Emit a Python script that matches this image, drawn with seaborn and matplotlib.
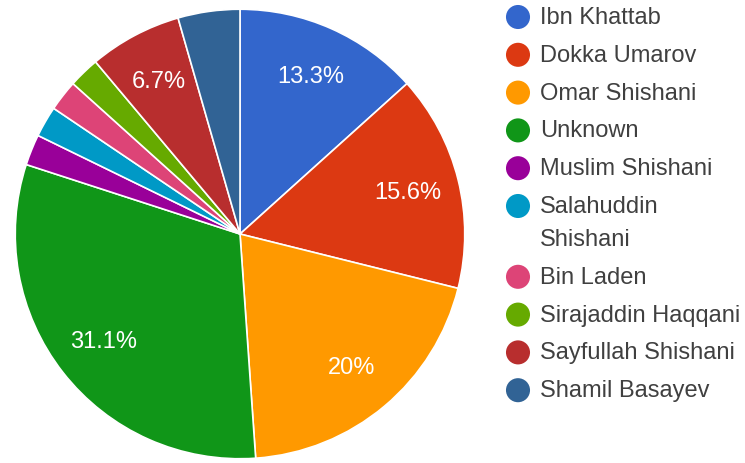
import matplotlib
matplotlib.use("Agg")
import matplotlib.pyplot as plt
import seaborn as sns

# slice counts (45 in total)
leaders = ["Ibn Khattab", "Dokka Umarov", "Omar Shishani", "Unknown", "Muslim Shishani",
           "Salahuddin Shishani", "Bin Laden", "Sirajaddin Haqqani", "Sayfullah Shishani",
           "Shamil Basayev"]
counts = [6, 7, 9, 14, 1, 1, 1, 1, 3, 2]
legend_labels = ["Ibn Khattab", "Dokka Umarov", "Omar Shishani", "Unknown", "Muslim Shishani",
                 "Salahuddin\nShishani", "Bin Laden", "Sirajaddin Haqqani", "Sayfullah Shishani",
                 "Shamil Basayev"]
colors = ["#3366cc", "#dc3912", "#ff9900", "#109618", "#990099",
          "#0099c6", "#dd4477", "#66aa00", "#b82e2e", "#316395"]

sns.set_theme(style="white")
plt.rcParams["font.family"] = ["Liberation Sans", "DejaVu Sans"]

W, H = 745, 464
fig = plt.figure(figsize=(W / 100, H / 100), dpi=100)
fig.patch.set_facecolor("white")

# pie axes: centre (240, 235) px, radius 227 px
cx, cy, r = 240, 235, 227
ax = fig.add_axes([(cx - r) / W, (H - cy - r) / H, 2 * r / W, 2 * r / H])


def pct_label(p):
    if p < 5:
        return ""
    s = f"{p:.1f}"
    if s.endswith(".0"):
        s = s[:-2]
    return s + "%"


wedges, texts, autotexts = ax.pie(
    counts, colors=colors, startangle=90, counterclock=False,
    autopct=pct_label, pctdistance=0.77,
    wedgeprops=dict(edgecolor="white", linewidth=1.2),
    textprops=dict(color="white", fontsize=17),
)
ax.set_xlim(-1.01, 1.01)
ax.set_ylim(-1.01, 1.01)
ax.set_aspect("equal")
ax.axis("off")

# legend drawn in pixel coordinates
lax = fig.add_axes([0, 0, 1, 1])
lax.set_xlim(0, W)
lax.set_ylim(H, 0)
lax.axis("off")
y = 18
line_h = 33
row_gap = 37.8
for lab, col in zip(legend_labels, colors):
    lax.scatter([518], [y], s=300, color=col, edgecolor="none")
    for i, part in enumerate(lab.split("\n")):
        lax.text(540, y + i * line_h, part, fontsize=17, color="#404040",
                 va="center", ha="left")
    y += row_gap + lab.count("\n") * line_h

fig.savefig("out.png", dpi=100, facecolor="white")
